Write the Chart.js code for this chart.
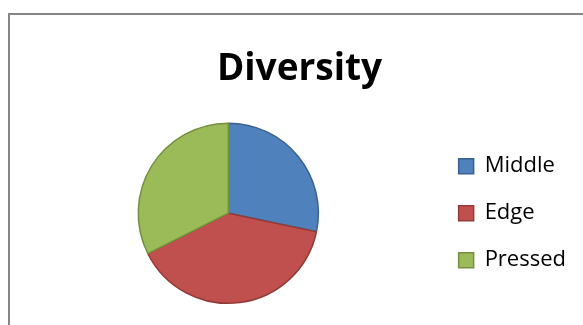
<!DOCTYPE html>
<html>
<head>
<meta charset="utf-8">
<script src="https://cdn.jsdelivr.net/npm/chart.js@4"></script>
<style>
  html, body { margin: 0; padding: 0; background: #fff; overflow: hidden; width: 583px; height: 325px; }
  #frame { position: absolute; left: 8px; top: 13px; width: 700px; height: 400px; border: 2px solid #868686; box-sizing: border-box; pointer-events: none; }
  #wrap { position: absolute; left: 10px; top: 15px; width: 580px; height: 310px; }
</style>
</head>
<body>
<div id="wrap"><canvas id="c" width="580" height="310"></canvas></div>
<div id="frame"></div>
<script>
const chartTitle = "Diversity";
const categories = ["Middle", "Edge", "Pressed"];
const values = [28.3, 39.3, 32.4];
const fillColors = ["#4F81BD", "#C0504D", "#9BBB59"];
const edgeColors = ["#3A6191", "#933B39", "#76903F"];

// Center the legend column vertically on the plot area (Excel-style)
const legendCenter = {
  id: "legendCenter",
  afterLayout(chart) {
    const lg = chart.legend, ca = chart.chartArea;
    if (!lg || !ca) return;
    const dy = (ca.top + ca.bottom) / 2 - (lg.top + lg.bottom) / 2;
    lg.top += dy; lg.bottom += dy;
  }
};

new Chart(document.getElementById("c"), {
  type: "pie",
  data: {
    labels: categories,
    datasets: [{
      data: values,
      backgroundColor: fillColors,
      borderColor: edgeColors,
      borderWidth: 1.5
    }]
  },
  options: {
    responsive: false,
    animation: false,
    layout: { padding: { left: 13, right: 14, top: 0, bottom: 21 } },
    plugins: {
      title: {
        display: true,
        text: chartTitle,
        color: "#000",
        font: { family: "'Open Sans'", size: 37, weight: "bold", lineHeight: 1.2 },
        padding: { top: 32, bottom: 31 }
      },
      legend: {
        position: "right",
        align: "center",
        labels: {
          color: "#000",
          font: { family: "'Open Sans'", size: 22 },
          boxWidth: 15,
          boxHeight: 15,
          padding: 25
        }
      },
      tooltip: { enabled: false }
    }
  },
  plugins: [legendCenter]
});
</script>
</body>
</html>
